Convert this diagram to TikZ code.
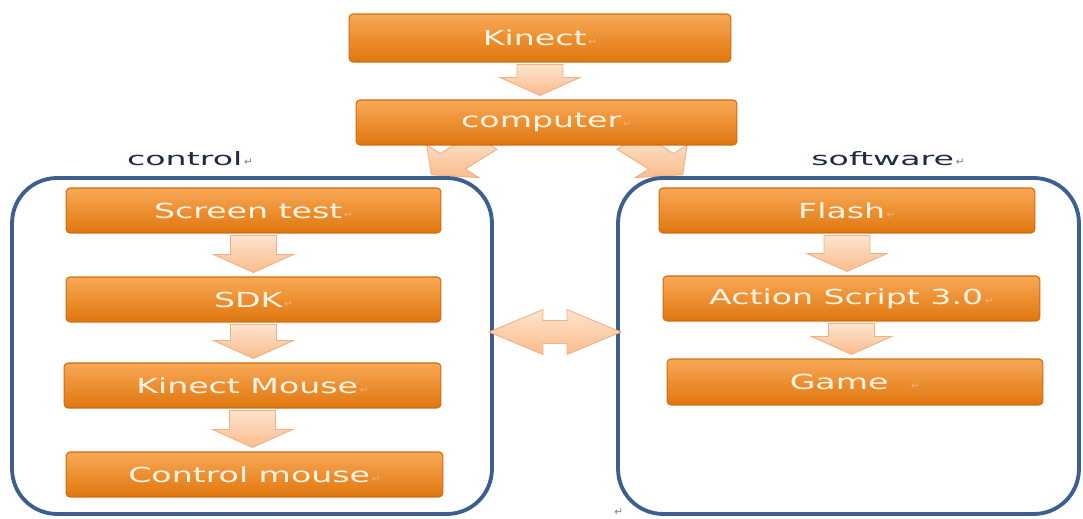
\documentclass[tikz,border=0pt]{standalone}
\usepackage{fontspec}
\newfontfamily\boxfont[FakeStretch=1.6]{DejaVu Sans}
\newfontfamily\lblfont[FakeStretch=1.8]{DejaVu Sans}
\newfontfamily\symfont{DejaVu Sans}
\usetikzlibrary{calc}
\definecolor{boxtop}{HTML}{F8A856}
\definecolor{boxbot}{HTML}{E0770E}
\definecolor{boxedge}{HTML}{D06C10}
\definecolor{arrtop}{HTML}{FDE4CE}
\definecolor{arrbot}{HTML}{F9BC8C}
\definecolor{arredge}{HTML}{F0B084}
\definecolor{frame}{HTML}{3D5F8F}
\definecolor{boxtext}{HTML}{FFF4E4}
\definecolor{lbltext}{HTML}{1F2A44}
\definecolor{markcol}{HTML}{F2B27A}
\newcommand\pmark[1]{{\symfont\fontsize{6}{6}\selectfont\color{#1}\,↵}}
\pgfdeclarelayer{bg}
\pgfsetlayers{bg,main}
\tikzset{
  stepbox/.style={rectangle, rounded corners=0.08cm, top color=boxtop, bottom color=boxbot,
    draw=boxedge, line width=0.6pt, text=boxtext,
    font=\boxfont\fontsize{11.8}{14}\selectfont,
    minimum width=7.5cm, minimum height=0.9cm, inner sep=0pt},
  container/.style={rectangle, rounded corners=0.9cm, draw=frame, line width=2.2pt, inner sep=0pt},
  blockarr/.style={top color=arrtop, bottom color=arrbot, draw=arredge, line width=0.5pt},
  grplabel/.style={font=\lblfont\fontsize{10.5}{12}\selectfont, text=lbltext, inner sep=0pt},
}
\newcommand\dnarrow[2]{%
  \path[blockarr] let \p1=(#1.south), \p2=(#2.north) in
    (\x1-0.46cm,\y1-0.04cm) -- (\x1+0.46cm,\y1-0.04cm) -- (\x1+0.46cm,\y2+0.44cm)
    -- (\x1+0.8cm,\y2+0.44cm) -- (\x1,\y2+0.08cm) -- (\x1-0.8cm,\y2+0.44cm)
    -- (\x1-0.46cm,\y2+0.44cm) -- cycle;}
% block arrow from a tail point, at an angle, horizontally stretched
\newcommand\diagarrow[2]{%
  \begin{scope}[shift={(#1)}, xscale=1.6, rotate=#2]
    \path[blockarr] (0,-11) -- (28,-11) -- (28,-23) -- (47,0) -- (28,23)
      -- (28,11) -- (0,11) -- cycle;
  \end{scope}}
\begin{document}
\begin{tikzpicture}[x=0.02cm,y=0.02cm]
\useasboundingbox (0,0) rectangle (1083,518);

% top boxes
\node[stepbox, minimum width=7.64cm, minimum height=0.96cm] (kin) at (540,480) {Kinect\pmark{markcol}};
\node[stepbox, minimum width=7.62cm] (comp) at (546.5,395.5) {computer\pmark{markcol}};

% group labels
\node[grplabel] (lctl) at (190,359) {control\pmark{gray}};
\node[grplabel] (lsw) at (888,359) {software\pmark{gray}};

% containers
\node[container, minimum width=9.6cm, minimum height=6.72cm] (lc) at (252,172) {};
\node[container, minimum width=9.22cm, minimum height=6.72cm] (rc) at (848.5,172) {};

% left column
\node[stepbox] (scr) at (253.5,307.5) {Screen test\pmark{markcol}};
\node[stepbox] (sdk) at (253.5,218.5) {SDK\pmark{markcol}};
\node[stepbox, minimum width=7.54cm] (kmo) at (252.5,132.5) {Kinect Mouse\pmark{markcol}};
\node[stepbox, minimum width=7.54cm] (cmo) at (254.5,43.5) {Control mouse\pmark{markcol}};

% right column
\node[stepbox, minimum width=7.52cm] (fla) at (847,307.5) {Flash\pmark{markcol}};
\node[stepbox, minimum width=7.54cm] (act) at (851.5,219.5) {Action Script 3.0\pmark{markcol}};
\node[stepbox, minimum width=7.52cm, minimum height=0.92cm] (gam) at (855,136) {Game\ \ \pmark{markcol}};

% down arrows
\dnarrow{kin}{comp}
\dnarrow{scr}{sdk}
\dnarrow{sdk}{kmo}
\dnarrow{kmo}{cmo}
\dnarrow{fla}{act}
\dnarrow{act}{gam}

% diagonal arrows from computer
\coordinate (ltail) at ($(comp.south)+(-62,4)$);
\coordinate (rtail) at ($(comp.south)+(83,4)$);
\begin{pgfonlayer}{bg}
\diagarrow{ltail}{225}
\diagarrow{rtail}{-45}
\end{pgfonlayer}

% double arrow between containers
\coordinate (dmid) at ($(lc.east)!0.5!(rc.west)+(0,14)$);
\begin{scope}[shift={(dmid)}]
\path[blockarr] (-66,0) -- (-12,22.5) -- (-12,11.5) -- (12,11.5) -- (12,22.5) -- (66,0)
  -- (12,-22.5) -- (12,-11.5) -- (-12,-11.5) -- (-12,-22.5) -- cycle;
\end{scope}

% stray paragraph mark
\node[inner sep=0pt] (pm) at (618,6) {\pmark{gray}};
\end{tikzpicture}
\end{document}
